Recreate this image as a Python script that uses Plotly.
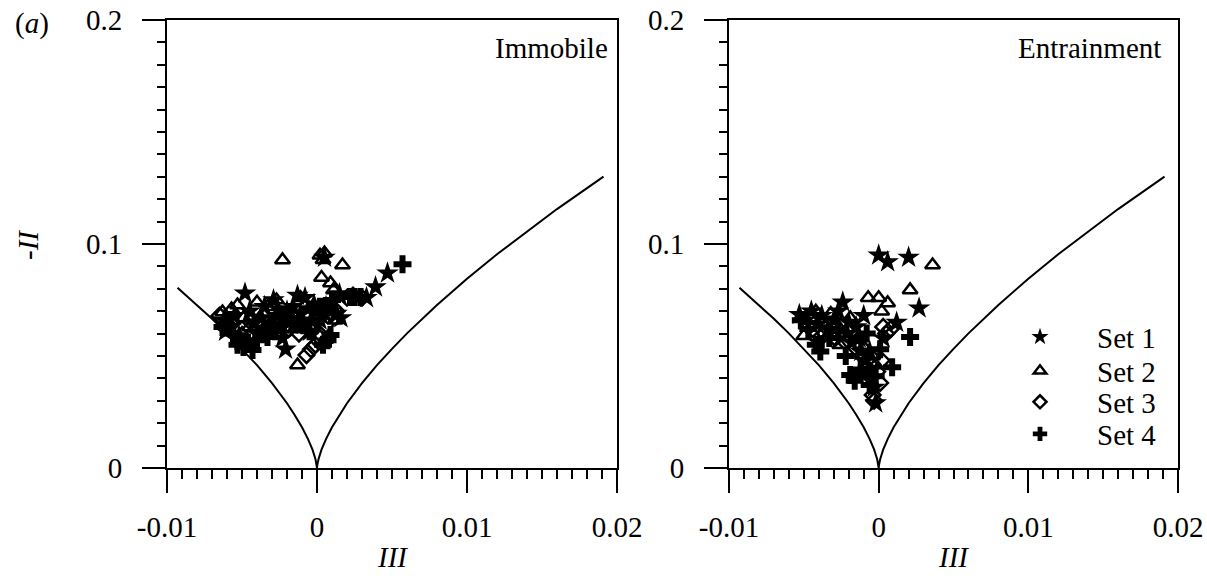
import plotly.graph_objects as go

FONT = "Liberation Serif"
FS = 29

# Boundary curve
curve_x = [-0.0093, -0.008, -0.007, -0.006, -0.005, -0.004, -0.003, -0.002, -0.0015, -0.001,
           -0.0006, -0.0003, -0.0001, -0.00002, 0.0, 0.00002, 0.0001, 0.0003, 0.0006, 0.001,
           0.0015, 0.002, 0.003, 0.004, 0.005, 0.006, 0.008, 0.010, 0.012, 0.014, 0.016, 0.0191]
curve_y = [0.0805, 0.0728, 0.0666, 0.0601, 0.0532, 0.0459, 0.0379, 0.0289, 0.0238, 0.0182,
           0.0129, 0.0082, 0.0039, 0.0013, 0.0, 0.0013, 0.0039, 0.0082, 0.0129, 0.0182,
           0.0238, 0.0289, 0.0379, 0.0459, 0.0532, 0.0601, 0.0728, 0.0845, 0.0954, 0.1057, 0.1156, 0.1301]

# Immobile panel
imm_s1_x = [-0.0062, -0.0058, -0.0055, -0.0048, -0.0045, -0.0042, -0.0040, -0.0037, -0.0035, -0.0032,
            -0.0029, -0.0027, -0.0025, -0.0023, -0.0021, -0.0020, -0.0018, -0.0016, -0.0013, -0.0011,
            -0.0009, -0.0008, -0.0006, -0.0004, -0.0002, 0.0000, 0.0003, 0.0006, 0.0009, 0.0013,
            0.0016, 0.0015, 0.0033, 0.0039, 0.0047, 0.0005, 0.0002, -0.0052, -0.0034, -0.0015,
            -0.0061, -0.0026, -0.0005]
imm_s1_y = [0.066, 0.063, 0.068, 0.078, 0.070, 0.065, 0.060, 0.067, 0.072, 0.064,
            0.075, 0.068, 0.062, 0.058, 0.053, 0.070, 0.066, 0.072, 0.077, 0.069,
            0.064, 0.076, 0.071, 0.066, 0.073, 0.070, 0.068, 0.072, 0.070, 0.069,
            0.067, 0.0777, 0.076, 0.0808, 0.087, 0.094, 0.066, 0.059, 0.062, 0.064,
            0.061, 0.071, 0.061]
imm_s2_x = [-0.0063, -0.0060, -0.0053, -0.0049, -0.0040, -0.0036, -0.0030, -0.0027, -0.0023, -0.0020,
            -0.0015, -0.0013, -0.0011, -0.0007, -0.0003, 0.0002, 0.0005, 0.0004, 0.0017, 0.0003,
            0.0009, 0.0011, 0.0008, 0.0012, -0.0050, -0.0045, -0.0057, -0.0033]
imm_s2_y = [0.0696, 0.066, 0.0728, 0.067, 0.074, 0.069, 0.065, 0.075, 0.0929, 0.067,
            0.062, 0.046, 0.076, 0.068, 0.072, 0.095, 0.096, 0.093, 0.0906, 0.085,
            0.0826, 0.0795, 0.070, 0.066, 0.060, 0.063, 0.071, 0.072]
imm_s3_x = [-0.0065, -0.0058, -0.0050, -0.0043, -0.0036, -0.0030, -0.0025, -0.0019, -0.0012, -0.0007,
            -0.0004, -0.0001, 0.0002, -0.0003, 0.0000, 0.0006, 0.0010, 0.0013, 0.0020, 0.0024, 0.0030]
imm_s3_y = [0.068, 0.065, 0.062, 0.066, 0.061, 0.063, 0.066, 0.062, 0.060, 0.0504,
            0.053, 0.055, 0.058, 0.0625, 0.066, 0.064, 0.069, 0.070, 0.076, 0.077, 0.076]
imm_s4_x = [-0.0063, -0.0056, -0.0053, -0.0049, -0.0043, -0.0040, -0.0033, -0.0028, -0.0022, -0.0017,
            -0.0010, -0.0005, 0.0004, 0.0007, 0.0009, 0.0022, 0.0025, 0.0029, 0.0057, 0.0002, 0.0010,
            -0.0046, -0.0037]
imm_s4_y = [0.063, 0.060, 0.055, 0.054, 0.0527, 0.057, 0.0585, 0.061, 0.064, 0.067,
            0.065, 0.061, 0.055, 0.057, 0.0594, 0.0763, 0.0763, 0.0763, 0.091, 0.072, 0.075,
            0.056, 0.060]

# Entrainment panel
ent_s1_x = [-0.0053, -0.0049, -0.0045, -0.0041, -0.0038, -0.0034, -0.0030, -0.0027, -0.0024, -0.0021,
            -0.0018, -0.0015, -0.0012, -0.0009, -0.0007, -0.0005, -0.0003, -0.0002, 0.0000, 0.0006,
            0.0020, 0.0027, 0.0012, 0.0003, -0.0040, -0.0010, -0.0020, -0.0013, -0.0006]
ent_s1_y = [0.0685, 0.066, 0.070, 0.064, 0.068, 0.062, 0.066, 0.070, 0.074, 0.060,
            0.056, 0.063, 0.052, 0.048, 0.044, 0.040, 0.036, 0.029, 0.095, 0.092,
            0.094, 0.0714, 0.065, 0.058, 0.056, 0.068, 0.065, 0.058, 0.052]
ent_s2_x = [-0.0050, -0.0046, -0.0042, -0.0037, -0.0032, -0.0028, -0.0024, -0.0019, -0.0014, -0.0010,
            -0.0007, 0.0000, 0.0006, 0.0021, 0.0036, -0.0004, -0.0002, 0.0002, -0.0026]
ent_s2_y = [0.059, 0.067, 0.070, 0.065, 0.069, 0.064, 0.060, 0.067, 0.058, 0.054,
            0.076, 0.076, 0.0737, 0.0795, 0.0906, 0.050, 0.046, 0.070, 0.055]
ent_s3_x = [-0.0044, -0.0036, -0.0029, -0.0022, -0.0016, -0.0011, -0.0008, -0.0006, -0.0004, -0.0003,
            0.0001, 0.0003, 0.0005, 0.0008, -0.0001, 0.0002]
ent_s3_y = [0.062, 0.060, 0.058, 0.056, 0.054, 0.050, 0.045, 0.041, 0.0326, 0.030,
            0.038, 0.063, 0.060, 0.062, 0.043, 0.048]
ent_s4_x = [-0.0052, -0.0047, -0.0042, -0.0039, -0.0033, -0.0027, -0.0022, -0.0019, -0.0016, -0.0012,
            -0.0006, -0.0002, 0.0009, 0.0021, -0.0008, 0.0001]
ent_s4_y = [0.066, 0.062, 0.055, 0.052, 0.058, 0.061, 0.050, 0.0415, 0.039, 0.044,
            0.037, 0.041, 0.045, 0.0585, 0.060, 0.053]

set_names = ["Set 1", "Set 2", "Set 3", "Set 4"]
x_tickvals = [-0.01, 0, 0.01, 0.02]
x_ticktext = ["-0.01", "0", "0.01", "0.02"]
y_tickvals = [0, 0.1, 0.2]
y_ticktext = ["0", "0.1", "0.2"]

symbols = ["star", "triangle-up-open", "diamond-open", "cross"]
sizes = [17, 13, 12, 15]
lsizes = [13, 11, 10, 12]

fig = go.Figure()

panels = [
    ("x", "y", [(imm_s1_x, imm_s1_y), (imm_s2_x, imm_s2_y), (imm_s3_x, imm_s3_y), (imm_s4_x, imm_s4_y)]),
    ("x2", "y2", [(ent_s1_x, ent_s1_y), (ent_s2_x, ent_s2_y), (ent_s3_x, ent_s3_y), (ent_s4_x, ent_s4_y)]),
]
for xa, ya, sets in panels:
    fig.add_trace(go.Scatter(x=curve_x, y=curve_y, mode="lines", xaxis=xa, yaxis=ya,
                             line=dict(color="black", width=2), showlegend=False, hoverinfo="skip"))
    for i, (sx, sy) in enumerate(sets):
        sym = symbols[i]
        mk = dict(symbol=sym, size=sizes[i], color="black")
        mk["line"] = dict(color="black", width=2.5 if "open" in sym else 0)
        fig.add_trace(go.Scatter(x=sx, y=sy, mode="markers", xaxis=xa, yaxis=ya,
                                 marker=mk, showlegend=False, name=set_names[i]))

# legend entries, one legend per row
legend_names = ["legend", "legend2", "legend3", "legend4"]
for i in range(4):
    sym = symbols[i]
    mk = dict(symbol=sym, size=lsizes[i], color="black")
    mk["line"] = dict(color="black", width=2.5 if "open" in sym else 0)
    fig.add_trace(go.Scatter(x=[None], y=[None], mode="markers", xaxis="x2", yaxis="y2",
                             marker=mk, name=set_names[i], showlegend=True,
                             legend=legend_names[i]))

W, H = 1207, 576
ydom = [1 - 468 / H, 1 - 20 / H]
LW = 2

def xaxis_cfg(dom, anchor):
    return dict(domain=dom, range=[-0.01, 0.02], anchor=anchor, automargin=False,
                tickvals=x_tickvals, ticktext=x_ticktext,
                ticks="outside", ticklen=23, tickwidth=LW, tickcolor="black",
                minor=dict(ticks="outside", ticklen=9, tickwidth=LW, tickcolor="black",
                           dtick=0.001, tick0=0),
                showline=True, linecolor="black", linewidth=LW, mirror=True,
                zeroline=False, showgrid=False,
                tickfont=dict(family=FONT, size=FS, color="black"),
                ticklabelstandoff=9)

def yaxis_cfg(anchor):
    return dict(domain=ydom, range=[0, 0.2], anchor=anchor, automargin=False,
                tickvals=y_tickvals, ticktext=y_ticktext,
                ticks="outside", ticklen=23, tickwidth=LW, tickcolor="black",
                minor=dict(ticks="outside", ticklen=8, tickwidth=LW, tickcolor="black",
                           dtick=0.01, tick0=0),
                showline=True, linecolor="black", linewidth=LW, mirror=True,
                zeroline=False, showgrid=False,
                tickfont=dict(family=FONT, size=FS, color="black"),
                ticklabelstandoff=14)

legend_rows = [337, 371, 402, 434]
def legend_cfg(row_px):
    return dict(x=983 / W, y=1 - row_px / H, xanchor="left", yanchor="middle",
                bgcolor="rgba(0,0,0,0)", itemwidth=104, borderwidth=0,
                font=dict(family=FONT, size=FS, color="black"))

fig.update_layout(
    width=W, height=H,
    margin=dict(l=0, r=0, t=0, b=0, autoexpand=False),
    paper_bgcolor="white", plot_bgcolor="white",
    font=dict(family=FONT, size=FS, color="black"),
    xaxis=xaxis_cfg([167 / W, 617 / W], "y"),
    yaxis=yaxis_cfg("x"),
    xaxis2=xaxis_cfg([729 / W, 1178 / W], "y2"),
    yaxis2=yaxis_cfg("x2"),
    showlegend=True,
    legend=legend_cfg(legend_rows[0]),
    legend2=legend_cfg(legend_rows[1]),
    legend3=legend_cfg(legend_rows[2]),
    legend4=legend_cfg(legend_rows[3]),
    annotations=[
        dict(text="(<i>a</i>)", x=13 / W, y=1 - 23 / H, xref="paper", yref="paper",
             xanchor="left", yanchor="middle", showarrow=False, font=dict(family=FONT, size=FS)),
        dict(text="Immobile", x=1 - 7 / 450, y=(468 - 48) / 448, xref="x domain", yref="y domain",
             xanchor="right", yanchor="middle", showarrow=False, font=dict(family=FONT, size=FS)),
        dict(text="Entrainment", x=1 - 15 / 449, y=(468 - 48) / 448, xref="x2 domain", yref="y2 domain",
             xanchor="right", yanchor="middle", showarrow=False, font=dict(family=FONT, size=FS)),
        dict(text="<i>III</i>", x=392 / W, y=1 - 557 / H, xref="paper", yref="paper",
             xanchor="center", yanchor="middle", showarrow=False, font=dict(family=FONT, size=FS)),
        dict(text="<i>III</i>", x=953 / W, y=1 - 557 / H, xref="paper", yref="paper",
             xanchor="center", yanchor="middle", showarrow=False, font=dict(family=FONT, size=FS)),
        dict(text="-<i>II</i>", x=28 / W, y=1 - 245 / H, xref="paper", yref="paper", textangle=-90,
             xanchor="center", yanchor="middle", showarrow=False, font=dict(family=FONT, size=FS)),
    ],
)

fig.write_html("out.html")
